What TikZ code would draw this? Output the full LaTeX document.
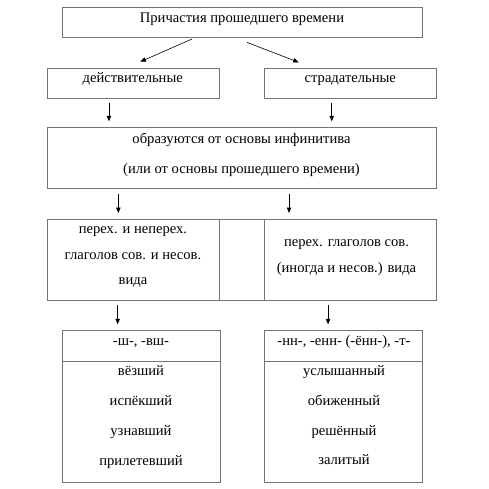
\documentclass[tikz,border=0pt]{standalone}
\usepackage{fontspec}
\setmainfont{Liberation Serif}
\usetikzlibrary{arrows.meta}
\tikzset{
  box/.style={draw=black!55, line width=0.7pt, inner sep=0pt, anchor=north west},
  txt/.style={anchor=base, inner sep=0pt, font=\fontsize{14.6}{17}\selectfont},
  arr/.style={-{Triangle[length=5.5pt,width=4.5pt]}, line width=0.6pt},
  vgap/.style={shorten <=4.5pt, shorten >=6pt},
}
\begin{document}
\begin{tikzpicture}[x=1pt,y=-1pt]
\useasboundingbox (0,0) rectangle (489,489);
%%% The boxes of the scheme
\node[box, minimum width=360pt, minimum height=29.4pt] (top) at (62,7.3) {};
\node[box, minimum width=172.6pt, minimum height=30pt] (deyst) at (46.7,68.3) {};
\node[box, minimum width=172pt, minimum height=30pt] (strad) at (264,68.3) {};
\node[box, minimum width=389.6pt, minimum height=61pt] (obraz) at (46.7,127.3) {};
%%% the row with the kinds of verbs
\node[box, minimum width=172.6pt, minimum height=81pt] (vidl) at (46.7,219) {};
\node[box, minimum width=44.7pt, minimum height=81pt] (vidm) at (219.3,219) {};
\node[box, minimum width=172pt, minimum height=81pt] (vidr) at (264,219) {};
%%% the suffixes with the examples
\node[box, minimum width=158.3pt, minimum height=30.4pt] (sufl) at (61.7,330.3) {};
\node[box, minimum width=158.3pt, minimum height=121pt] (exl) at (61.7,360.7) {};
\node[box, minimum width=157.7pt, minimum height=30.4pt] (sufr) at (264,330.3) {};
\node[box, minimum width=157.7pt, minimum height=121pt] (exr) at (264,360.7) {};
%%% The texts
\node[txt] (ttop) at (242,23) {Причастия прошедшего времени};
\node[txt] (tdeyst) at (132.7,83) {действительные};
\node[txt] (tstrad) at (350.3,83) {страдательные};
\node[txt] (tobr1) at (241.5,143) {образуются от основы инфинитива};
\node[txt] (tobr2) at (241.5,173.6) {(или от основы прошедшего времени)};
\node[txt] (tvl1) at (133,233.8) {перех. и неперех.};
\node[txt] (tvl2) at (133,259.8) {глаголов сов. и несов.};
\node[txt] (tvl3) at (133,284.5) {вида};
\node[txt] (tvr1) at (346.5,246) {перех. глаголов сов.};
\node[txt] (tvr2) at (346.5,272) {(иногда и несов.) вида};
\node[txt] (tsl) at (141,345.5) {-ш-, -вш-};
\node[txt] (tsr) at (344,345.5) {-нн-, -енн- (-ённ-), -т-};
%
\node[txt] (tel1) at (141,375) {вёзший};
\node[txt] (tel2) at (141,405.5) {испёкший};
\node[txt] (tel3) at (141,435.5) {узнавший};
\node[txt] (tel4) at (141,465) {прилетевший};
%
\node[txt] (ter1) at (344,375.5) {услышанный};
\node[txt] (ter2) at (344,405.5) {обиженный};
\node[txt] (ter3) at (344,435) {решённый};
\node[txt] (ter4) at (344,464.5) {залитый};
%%% The arrows between the boxes
\draw[arr] ([xshift=-50.3pt,yshift=-1.6pt]top.south) -- ([xshift=7pt,yshift=6.6pt]deyst.north);
\draw[arr] ([xshift=4.7pt,yshift=-5pt]top.south) -- ([xshift=-51.7pt,yshift=6pt]strad.north);
%
\draw[arr, vgap] ([xshift=-24.4pt]deyst.south) -- ([xshift=-24.4pt]deyst.south |- obraz.north);
\draw[arr, vgap] ([xshift=-18.6pt]strad.south) -- ([xshift=-18.6pt]strad.south |- obraz.north);
%
\draw[arr, vgap] ([xshift=-123.5pt]obraz.south) -- ([xshift=-123.5pt]obraz.south |- vidl.north);
\draw[arr, vgap] ([xshift=47.2pt]obraz.south) -- ([xshift=47.2pt]obraz.south |- vidr.north);
%
\draw[arr, vgap] ([xshift=-15.7pt]vidl.south) -- ([xshift=-15.7pt]vidl.south |- sufl.north);
\draw[arr, vgap] ([xshift=-22.3pt]vidr.south) -- ([xshift=-22.3pt]vidr.south |- sufr.north);
\end{tikzpicture}
\end{document}
